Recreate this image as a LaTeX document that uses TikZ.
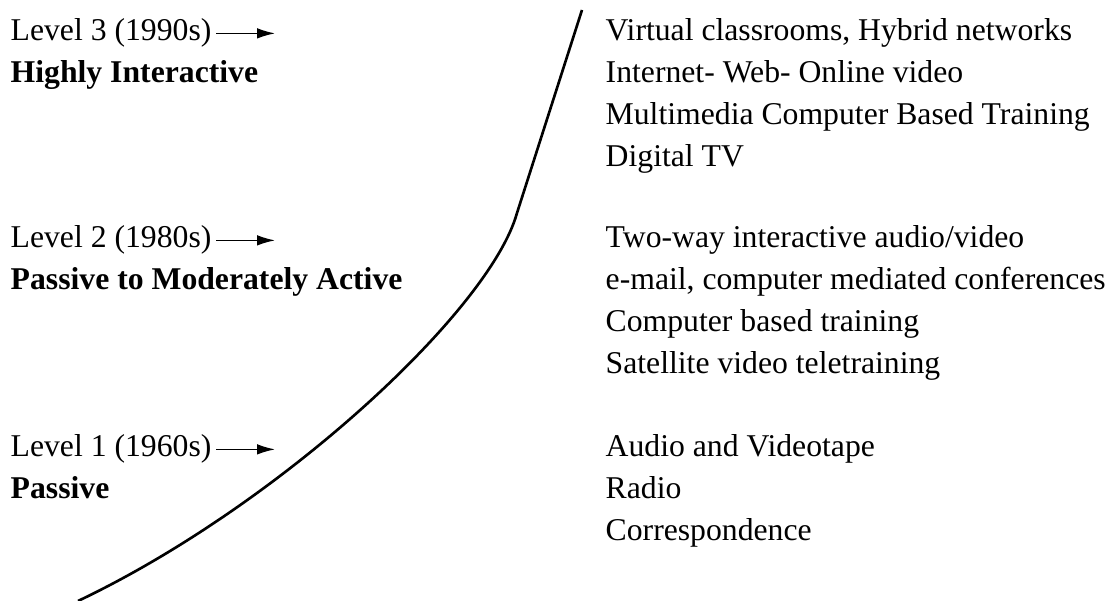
\documentclass[tikz,border=0pt]{standalone}
\usepackage{fontspec}
\setmainfont{Liberation Serif}
\usetikzlibrary{arrows.meta}

\tikzset{
  txt/.style={anchor=base west, inner sep=0pt, font=\fontsize{9.02}{12}\selectfont},
  lvl/.style={txt, font=\fontsize{9.02}{12}\selectfont\bfseries},
  pointer/.style={-{Latex[length=1.8mm,width=1.05mm]}, line width=0.45pt, shorten <=0.4mm},
  growth/.style={line width=0.75pt}
}

\begin{document}
\begin{tikzpicture}
\useasboundingbox (0,0) rectangle (11.11,-6.01);
% levels
\node[txt] (lev3) at (0.10,-0.41) {Level 3 (1990s)};
\node[lvl] (name3) at (0.10,-0.83) {Highly Interactive};
\node[txt] (lev2) at (0.10,-2.48) {Level 2 (1980s)};
\node[lvl] (name2) at (0.10,-2.90) {Passive to Moderately Active};
\node[txt] (lev1) at (0.10,-4.57) {Level 1 (1960s)};
\node[lvl] (name1) at (0.10,-4.99) {Passive};
\coordinate (tip3) at ([xshift=0.63cm]lev3.east);
\coordinate (tip2) at ([xshift=0.63cm]lev2.east);
\coordinate (tip1) at ([xshift=0.63cm]lev1.east);
\draw[pointer] (lev3) -- (tip3);
\draw[pointer] (lev2) -- (tip2);
\draw[pointer] (lev1) -- (tip1);
% curve
\draw[growth] (0.78,-6.01) .. controls (2.80,-5.05) and (4.90,-3.10) .. (5.17,-2.13)
    -- (5.82,-0.10);
% media
\node[txt] (m31) at (6.05,-0.41) {Virtual classrooms, Hybrid networks};
\node[txt] (m32) at (6.05,-0.83) {Internet- Web- Online video};
\node[txt] (m33) at (6.05,-1.25) {Multimedia Computer Based Training};
\node[txt] (m34) at (6.05,-1.67) {Digital TV};
\node[txt] (m21) at (6.05,-2.48) {Two-way interactive audio/video};
\node[txt] (m22) at (6.05,-2.90) {e-mail, computer mediated conferences};
\node[txt] (m23) at (6.05,-3.32) {Computer based training};
\node[txt] (m24) at (6.05,-3.74) {Satellite video teletraining};
\node[txt] (m11) at (6.05,-4.57) {Audio and Videotape};
\node[txt] (m12) at (6.05,-4.99) {Radio};
\node[txt] (m13) at (6.05,-5.41) {Correspondence};
\end{tikzpicture}
\end{document}
